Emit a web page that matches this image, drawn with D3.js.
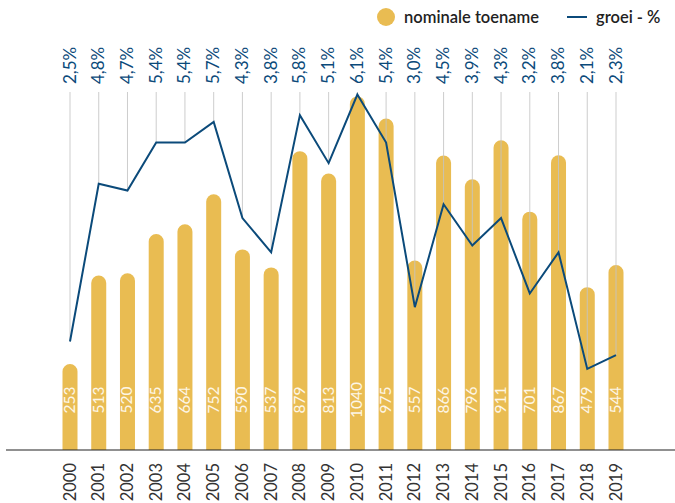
<!DOCTYPE html>
<html>
<head>
<meta charset="utf-8">
<script src="https://cdn.jsdelivr.net/npm/d3@7"></script>
<style>
  body { margin: 0; background: #fff; }
  svg { font-family: Lato, "Open Sans", sans-serif; }
</style>
</head>
<body>
<div id="chart"></div>
<script>
// data
const years = ["2000","2001","2002","2003","2004","2005","2006","2007","2008","2009",
               "2010","2011","2012","2013","2014","2015","2016","2017","2018","2019"];
const toename = [253, 513, 520, 635, 664, 752, 590, 537, 879, 813,
                 1040, 975, 557, 866, 796, 911, 701, 867, 479, 544];
const groei = [2.5, 4.8, 4.7, 5.4, 5.4, 5.7, 4.3, 3.8, 5.8, 5.1,
               6.1, 5.4, 3.0, 4.5, 3.9, 4.3, 3.2, 3.8, 2.1, 2.3];

const width = 675, height = 503;
const barColor = "#e9bc52", lineColor = "#0b4a7a";
const baseY = 450;
const barW = 15;

const svg = d3.select("#chart").append("svg")
  .attr("width", width)
  .attr("height", height);

const x = d3.scalePoint().domain(years).range([70, 616]);
const yBar = d3.scaleLinear().domain([0, 1000]).range([baseY, 110]);
const yLine = d3.scaleLinear().domain([0, 6]).range([513, 101.4]);

const data = years.map((d, i) => ({ year: d, val: toename[i], g: groei[i] }));

// bars with a rounded top
const bars = svg.append("g");
bars.selectAll("path")
  .data(data)
  .enter()
  .append("path")
  .attr("fill", barColor)
  .attr("d", d => {
    const cx = x(d.year), top = yBar(d.val), r = barW / 2;
    return `M${cx - r},${baseY} L${cx - r},${top + r} A${r},${r} 0 0 1 ${cx + r},${top + r} L${cx + r},${baseY} Z`;
  });

// value labels inside bars
bars.selectAll("text")
  .data(data)
  .enter()
  .append("text")
  .attr("transform", d => `translate(${x(d.year) + 5},400) rotate(-90)`)
  .attr("text-anchor", "middle")
  .attr("fill", "#fdf6e6")
  .attr("font-size", 15.5)
  .text(d => d.val);

// grey drop lines from labels to the line points
svg.append("g").selectAll("line")
  .data(data)
  .enter()
  .append("line")
  .attr("x1", d => x(d.year))
  .attr("x2", d => x(d.year))
  .attr("y1", 92)
  .attr("y2", d => yLine(d.g))
  .attr("stroke", "#c4c4c4")
  .attr("stroke-opacity", 0.85)
  .attr("stroke-width", 1);

// growth line
const line = d3.line()
  .x(d => x(d.year))
  .y(d => yLine(d.g));

svg.append("path")
  .datum(data)
  .attr("fill", "none")
  .attr("stroke", lineColor)
  .attr("stroke-width", 2)
  .attr("stroke-linejoin", "miter")
  .attr("d", line);

// percentage labels at top
const fmt = v => d3.format(".1f")(v).replace(".", ",") + "%";
svg.append("g").selectAll("text")
  .data(data)
  .enter()
  .append("text")
  .attr("transform", d => `translate(${x(d.year) + 5.5},84) rotate(-90)`)
  .attr("fill", lineColor)
  .attr("font-size", 17)
  .text(d => fmt(d.g));

// baseline
svg.append("line")
  .attr("x1", 6).attr("x2", width)
  .attr("y1", baseY).attr("y2", baseY)
  .attr("stroke", "#222")
  .attr("stroke-width", 1.2);

// year labels
svg.append("g").selectAll("text")
  .data(years)
  .enter()
  .append("text")
  .attr("transform", d => `translate(${x(d) + 5.5},463) rotate(-90)`)
  .attr("text-anchor", "end")
  .attr("fill", "#333")
  .attr("font-size", 16.5)
  .text(d => d);

// legend
const legend = svg.append("g");
legend.append("circle")
  .attr("cx", 386).attr("cy", 17).attr("r", 9)
  .attr("fill", barColor);
legend.append("text")
  .attr("x", 404).attr("y", 22.5)
  .attr("fill", "#222")
  .attr("font-size", 16.5)
  .attr("font-weight", 600)
  .text("nominale toename");
legend.append("line")
  .attr("x1", 567).attr("x2", 587)
  .attr("y1", 17).attr("y2", 17)
  .attr("stroke", lineColor)
  .attr("stroke-width", 2);
legend.append("text")
  .attr("x", 596).attr("y", 22.5)
  .attr("fill", "#222")
  .attr("font-size", 16.5)
  .attr("font-weight", 600)
  .text("groei - %");
</script>
</body>
</html>
